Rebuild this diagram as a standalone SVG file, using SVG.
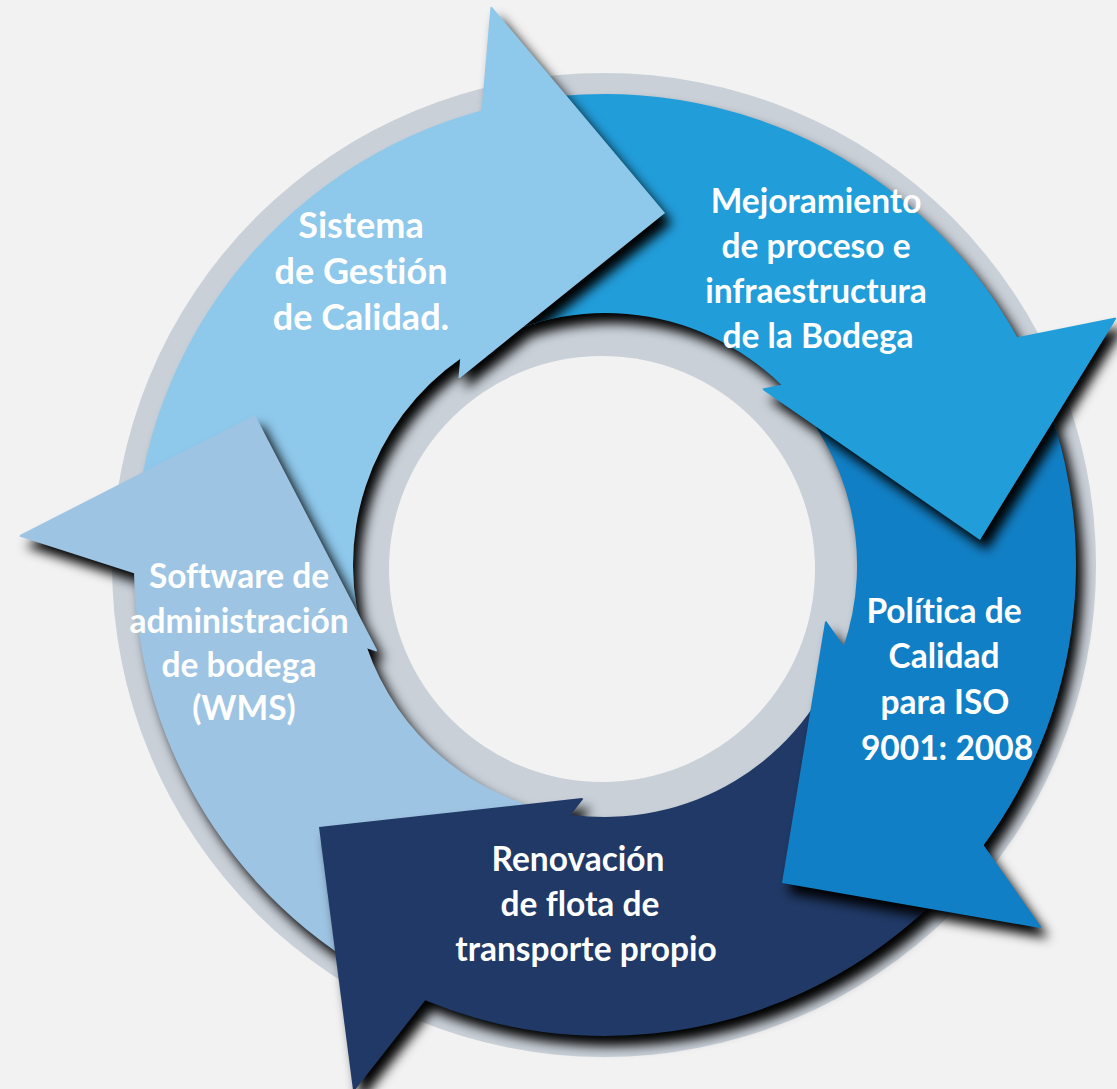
<svg xmlns="http://www.w3.org/2000/svg" xmlns:xlink="http://www.w3.org/1999/xlink" width="1117" height="1089" viewBox="0 0 1117 1089">
<style>
.c1{fill:#8ec8eb}
.c2{fill:#219dda}
.c3{fill:#117fc5}
.c4{fill:#203966}
.c5{fill:#9ec4e3}
.t{font-family:Lato,"Open Sans","Liberation Sans",sans-serif;font-weight:700;font-size:33.5px;fill:#ffffff;text-anchor:middle;font-variant-ligatures:none;font-feature-settings:"liga" 0,"clig" 0}
.big{font-size:36px}
</style>
<defs>
<filter id="fs" x="-30%" y="-30%" width="160%" height="160%">
<feGaussianBlur in="SourceAlpha" stdDeviation="6"/>
<feOffset dx="7" dy="10"/>
<feComponentTransfer><feFuncA type="linear" slope="1"/></feComponentTransfer>
</filter>
<path id="s1" d="M134,571.7 A471,471 0 0 1 483.1,110 L461.8,357.7 A252,252 0 0 0 366.6,646.6 Z"/>
<path id="s2" d="M483.1,110 A471,471 0 0 1 1018.1,338.7 L782.5,386.1 A252,252 0 0 0 461.8,357.7 Z"/>
<path id="s3" d="M1018.1,338.7 A471,471 0 0 1 982.7,846.4 L843.1,647.7 A252,252 0 0 0 782.5,386.1 Z"/>
<path id="s4" d="M982.7,846.4 A471,471 0 0 1 423.8,999.8 L569.1,814.4 A252,252 0 0 0 843.1,647.7 Z"/>
<path id="s5" d="M423.8,999.8 A471,471 0 0 1 134,571.7 L366.6,646.6 A252,252 0 0 0 569.1,814.4 Z"/>
<polygon id="h1" points="490.5,6.9 492,7 665,213 460,378 458.5,377.9"/>
<polygon id="h2" points="1115.7,317.5 1116,319 980,540 763,390 762.7,388.5"/>
<polygon id="h3" points="1041.2,927.1 1040,928 782,883 825,622 826.2,621.1"/>
<polygon id="h4" points="354.2,1090.9 353,1090 319,827 582,798 583.2,798.9"/>
<polygon id="h5" points="19.5,536.4 20,535 255,415 377,650 376.5,651.4"/>
<clipPath id="k1"><use xlink:href="#s1"/></clipPath>
<clipPath id="k2"><use xlink:href="#s2"/></clipPath>
<clipPath id="k3"><use xlink:href="#s3"/></clipPath>
<clipPath id="k4"><use xlink:href="#s4"/></clipPath>
<clipPath id="k5"><use xlink:href="#s5"/></clipPath>
</defs>
<rect x="0" y="0" width="1117" height="1089" fill="#f2f2f2"/>
<g id="backdrop">
<circle cx="604" cy="565" r="492" fill="#c9d0d8"/>
<circle cx="602" cy="569" r="213" fill="#f2f2f2"/>
</g>
<g id="ring-shadow" filter="url(#fs)">
<use xlink:href="#s1"/><use xlink:href="#s2"/><use xlink:href="#s3"/><use xlink:href="#s4"/><use xlink:href="#s5"/>
<use xlink:href="#h1"/><use xlink:href="#h2"/><use xlink:href="#h3"/><use xlink:href="#h4"/><use xlink:href="#h5"/>
</g>
<g id="bands">
<use xlink:href="#s1" class="c1"/>
<use xlink:href="#s2" class="c2"/>
<use xlink:href="#s3" class="c3"/>
<use xlink:href="#s4" class="c4"/>
<use xlink:href="#s5" class="c5"/>
</g>
<g id="node-sistema">
<g clip-path="url(#k2)"><use xlink:href="#h1" filter="url(#fs)"/></g>
<use xlink:href="#h1" class="c1"/>
<text class="t big" x="361" y="238">Sistema</text>
<text class="t big" x="361" y="284">de Gestión</text>
<text class="t big" x="361" y="330">de Calidad.</text>
</g>
<g id="node-mejoramiento">
<g clip-path="url(#k3)"><use xlink:href="#h2" filter="url(#fs)"/></g>
<use xlink:href="#h2" class="c2"/>
<text class="t" x="816" y="213">Mejoramiento</text>
<text class="t" x="816" y="258">de proceso e</text>
<text class="t" x="816" y="303">infraestructura</text>
<text class="t" x="818" y="348">de la Bodega</text>
</g>
<g id="node-politica">
<g clip-path="url(#k4)"><use xlink:href="#h3" filter="url(#fs)"/></g>
<use xlink:href="#h3" class="c3"/>
<text class="t" x="944" y="623">Política de</text>
<text class="t" x="944" y="668">Calidad</text>
<text class="t" x="945" y="714">para ISO</text>
<text class="t" x="947" y="760">9001: 2008</text>
</g>
<g id="node-renovacion">
<g clip-path="url(#k5)"><use xlink:href="#h4" filter="url(#fs)"/></g>
<use xlink:href="#h4" class="c4"/>
<text class="t" x="578" y="871">Renovación</text>
<text class="t" x="580" y="916">de flota de</text>
<text class="t" x="586" y="961">transporte propio</text>
</g>
<g id="node-wms">
<g clip-path="url(#k1)"><use xlink:href="#h5" filter="url(#fs)"/></g>
<use xlink:href="#h5" class="c5"/>
<text class="t" x="239" y="588">Software de</text>
<text class="t" x="239" y="633">administración</text>
<text class="t" x="239" y="677">de bodega</text>
<text class="t" x="244" y="720">(WMS)</text>
</g>
</svg>
